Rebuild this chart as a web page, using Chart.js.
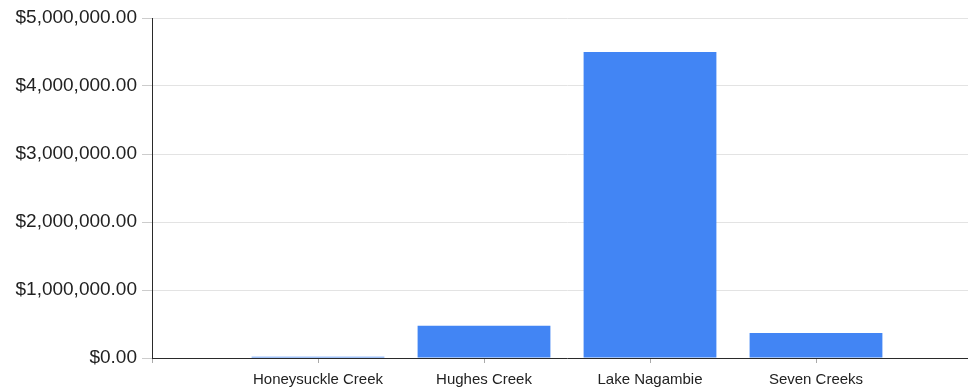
<!DOCTYPE html>
<html><head><meta charset="utf-8">
<script src="https://cdn.jsdelivr.net/npm/chart.js@4/dist/chart.umd.min.js"></script>
<style>
html,body{margin:0;padding:0;overflow:hidden;background:#fff;width:968px;height:388px}
#wrap{position:relative;width:990px;height:388px}
</style></head>
<body><div id="wrap"><canvas id="c" width="990" height="388"></canvas></div>
<script>
const categories = ["", "Honeysuckle Creek", "Hughes Creek", "Lake Nagambie", "Seven Creeks", ""];
const values = [null, 20000, 475000, 4500000, 368000, null];
const yMin = 0;
const yMax = 5000000;
const yStep = 1000000;

const fontFamily = "'Liberation Sans', Arial, Helvetica, sans-serif";
new Chart(document.getElementById('c'), {
  type: 'bar',
  data: {
    labels: categories,
    datasets: [{
      data: values,
      backgroundColor: '#4285F4',
      borderWidth: 0,
      barPercentage: 1,
      categoryPercentage: 0.8
    }]
  },
  options: {
    responsive: false,
    animation: false,
    devicePixelRatio: 1,
    layout: { padding: { top: 18, right: 7, left: 0, bottom: 0 } },
    plugins: { legend: { display: false }, tooltip: { enabled: false } },
    scales: {
      x: {
        offset: false,
        grid: { display: true, drawOnChartArea: false, offset: false, tickLength: 5, tickColor: '#aaaaaa' },
        border: { color: '#2a2a2a', width: 1 },
        ticks: { color: '#222222', font: { family: fontFamily, size: 15 }, padding: 8, maxRotation: 0, autoSkip: false },
        afterFit: s => { s.height = 30; }
      },
      y: {
        min: yMin, max: yMax,
        grid: { color: '#e3e3e3', tickLength: 10, tickColor: '#cccccc' },
        border: { color: '#2a2a2a', width: 1 },
        ticks: {
          stepSize: yStep,
          color: '#222222',
          font: { family: fontFamily, size: 19 },
          padding: 5,
          callback: v => '$' + Number(v).toLocaleString('en-US', { minimumFractionDigits: 2, maximumFractionDigits: 2 })
        },
        afterFit: s => { s.width = 152; }
      }
    }
  }
});
</script>
</body></html>
